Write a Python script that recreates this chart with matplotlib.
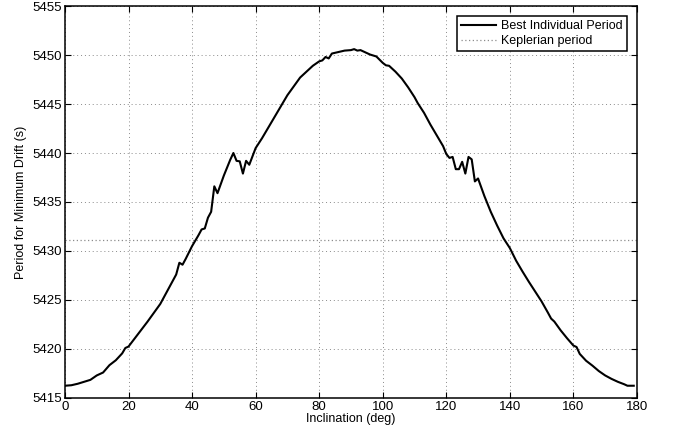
import matplotlib
matplotlib.use("Agg")
import matplotlib.pyplot as plt

plt.rcParams['font.family'] = ['Liberation Sans', 'DejaVu Sans']

inclination = [0, 2, 4, 6, 8, 10, 12, 14, 16, 18, 19, 20, 22, 24, 26, 28, 30, 32, 34, 35,
               36, 37, 38, 40, 42, 43, 44, 45, 46, 47, 48, 50, 52, 53, 54, 55, 56, 57, 58,
               60, 62, 64, 66, 68, 70, 72, 74, 76, 78, 80, 81, 82, 83, 84, 86, 88, 90, 91,
               92, 93, 95, 96, 98, 100, 101, 102, 104, 106, 108, 110, 111, 113, 115, 117,
               119, 120, 121, 122, 123, 124, 125, 126, 127, 128, 129, 130, 132, 134, 136,
               138, 140, 142, 144, 146, 148, 150, 152, 153, 154, 156, 158, 160, 161, 162,
               164, 166, 168, 170, 172, 174, 176, 177, 179]
best_period = [5416.25, 5416.3, 5416.45, 5416.65, 5416.85, 5417.3, 5417.6, 5418.35, 5418.85,
               5419.55, 5420.1, 5420.25, 5421.1, 5421.95, 5422.8, 5423.7, 5424.6, 5425.8,
               5427.0, 5427.6, 5428.8, 5428.6, 5429.2, 5430.5, 5431.6, 5432.2, 5432.3,
               5433.4, 5434.0, 5436.6, 5435.9, 5437.7, 5439.3, 5440.0, 5439.2, 5439.15,
               5437.9, 5439.2, 5438.8, 5440.5, 5441.5, 5442.6, 5443.7, 5444.8, 5445.9,
               5446.8, 5447.7, 5448.3, 5448.9, 5449.35, 5449.45, 5449.8, 5449.65, 5450.15,
               5450.3, 5450.45, 5450.5, 5450.6, 5450.45, 5450.5, 5450.2, 5450.05, 5449.85,
               5449.2, 5448.95, 5448.9, 5448.3, 5447.6, 5446.7, 5445.7, 5445.1, 5444.1,
               5442.9, 5441.8, 5440.7, 5439.9, 5439.5, 5439.6, 5438.35, 5438.35, 5439.1,
               5437.9, 5439.6, 5439.35, 5437.1, 5437.4, 5435.6, 5434.0, 5432.6, 5431.3,
               5430.3, 5429.0, 5427.9, 5426.85, 5425.85, 5424.85, 5423.7, 5423.1, 5422.8,
               5421.9, 5421.1, 5420.35, 5420.2, 5419.5, 5418.8, 5418.3, 5417.75, 5417.3,
               5416.95, 5416.65, 5416.4, 5416.25, 5416.25]
kepler_x = [0, 180]
kepler_period = [5431.1, 5431.1]

xticks = [0, 20, 40, 60, 80, 100, 120, 140, 160, 180]
yticks = [5415, 5420, 5425, 5430, 5435, 5440, 5445, 5450, 5455]

fig = plt.figure(figsize=(6.74, 4.36), dpi=100)
ax = fig.add_axes([0.0964, 0.0872, 0.8486, 0.8990])

ax.plot(inclination, best_period, color='black', lw=1.5, label='Best Individual Period', zorder=3)
ax.plot(kepler_x, kepler_period, color='#8c8c8c', lw=0.9, ls=(0, (1, 2)), label='Keplerian period', zorder=2)

ax.set_xlim(0, 180)
ax.set_ylim(5415, 5455)
ax.set_xticks(xticks)
ax.set_yticks(yticks)
ax.tick_params(direction='in', length=4, width=0.8, top=True, right=True, labelsize=9.5, pad=2,
               colors='black')
ax.grid(True, color='#8a8a8a', ls=(0, (1, 3)), lw=0.7)
for s in ax.spines.values():
    s.set_linewidth(1.1)

ax.set_xlabel('Inclination (deg)', fontsize=9, labelpad=0)
ax.set_ylabel('Period for Minimum Drift (s)', fontsize=9, labelpad=4)

leg = ax.legend(loc='upper right', fontsize=9, frameon=True, fancybox=False, framealpha=1,
                edgecolor='black', handlelength=2.8, borderpad=0.35, labelspacing=0.2,
                handletextpad=0.4, borderaxespad=0.8)
leg.get_frame().set_linewidth(1.1)

fig.savefig('out.png', dpi=100)
